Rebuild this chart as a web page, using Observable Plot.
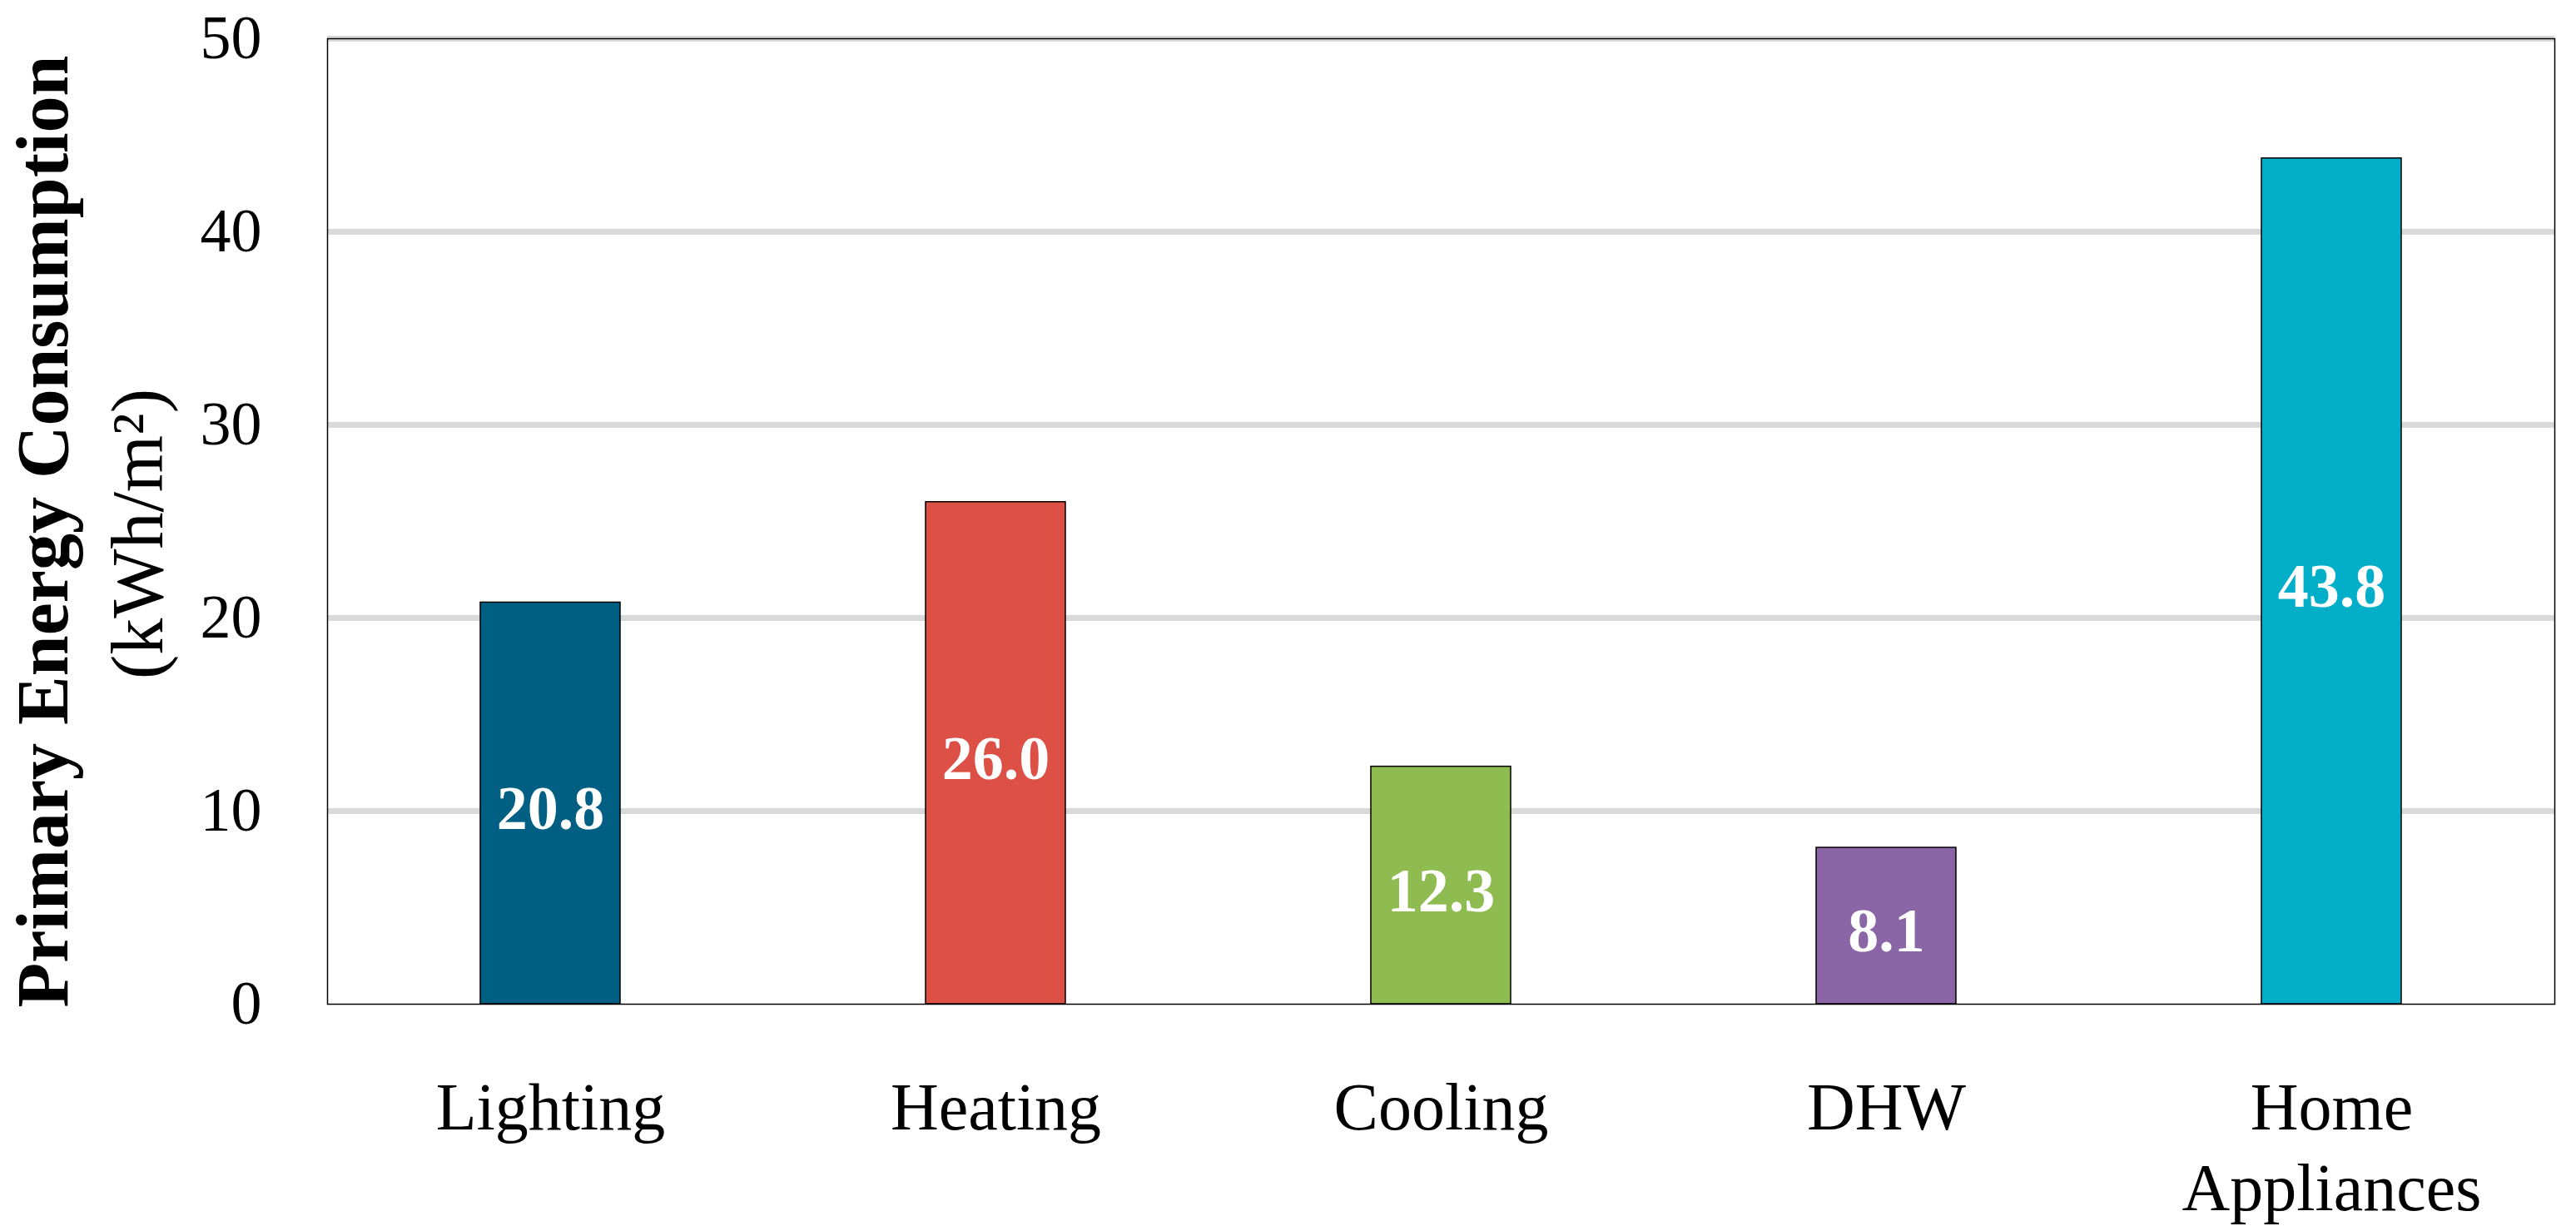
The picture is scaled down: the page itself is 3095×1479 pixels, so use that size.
<!DOCTYPE html>
<html>
<head>
<meta charset="utf-8">
<script src="https://cdn.jsdelivr.net/npm/d3@7"></script>
<script src="https://cdn.jsdelivr.net/npm/@observablehq/plot@0.6"></script>
<style>
  html, body { margin: 0; padding: 0; background: #ffffff; }
  #chart svg { display: block; }
</style>
</head>
<body>
<div id="chart"></div>
<script>
// ---- data ----
const categories = ["Lighting", "Heating", "Cooling", "DHW", "Home Appliances"];
const values = [20.8, 26.0, 12.3, 8.1, 43.8];
const tickLabels = ["Lighting", "Heating", "Cooling", "DHW", "Home\nAppliances"];
const barColors = ["#005F83", "#DC5046", "#8FBC51", "#8B66A6", "#02AEC8"];
const yTicks = [0, 10, 20, 30, 40, 50];
const gridValues = [10, 20, 30, 40, 50];
const yTitle = "Primary Energy Consumption";
const yUnit = "(kWh/m²)";

const data = categories.map((c, i) => ({category: c, value: values[i]}));
const labelOf = new Map(categories.map((c, i) => [c, tickLabels[i]]));

const serif = "'Liberation Serif', 'Times New Roman', serif";

const chart = Plot.plot({
  width: 3095,
  height: 1479,
  marginLeft: 393,
  marginRight: 26,
  marginTop: 46,
  marginBottom: 273,
  style: {background: "#ffffff", color: "#000000", fontFamily: serif, overflow: "visible"},
  x: {domain: categories, paddingInner: 0.686, paddingOuter: 0.343, label: null},
  y: {domain: [0, 50], label: null},
  color: {domain: categories, range: barColors},
  marks: [
    Plot.ruleY(gridValues, {stroke: "#D9D9D9", strokeWidth: 7}),
    Plot.barY(data, {x: "category", y: "value", fill: "category", stroke: "#000000", strokeWidth: 1.5}),
    Plot.text(data, {
      x: "category",
      y: d => d.value / 2,
      text: d => d.value.toFixed(1),
      fill: "#ffffff",
      fontWeight: "bold",
      fontSize: 74,
      dy: 7
    }),
    Plot.frame({stroke: "#000000", strokeWidth: 1.5}),
    Plot.axisY({ticks: yTicks, tickSize: 0, tickPadding: 79, fontSize: 74, label: null}),
    Plot.axisX({
      tickSize: 0,
      tickPadding: 81,
      fontSize: 80,
      lineHeight: 1.22,
      tickFormat: d => labelOf.get(d),
      label: null
    }),
    Plot.text([yTitle], {
      text: d => d,
      frameAnchor: "left",
      textAnchor: "middle",
      lineAnchor: "middle",
      rotate: -90,
      dx: -341,
      dy: 12,
      fontSize: 88,
      fontWeight: "bold",
      fill: "#000000"
    }),
    Plot.text([yUnit], {
      text: d => d,
      frameAnchor: "left",
      textAnchor: "middle",
      lineAnchor: "middle",
      rotate: -90,
      dx: -227,
      dy: 15,
      fontSize: 88,
      fill: "#000000"
    })
  ]
});

document.getElementById("chart").appendChild(chart);
</script>
</body>
</html>
